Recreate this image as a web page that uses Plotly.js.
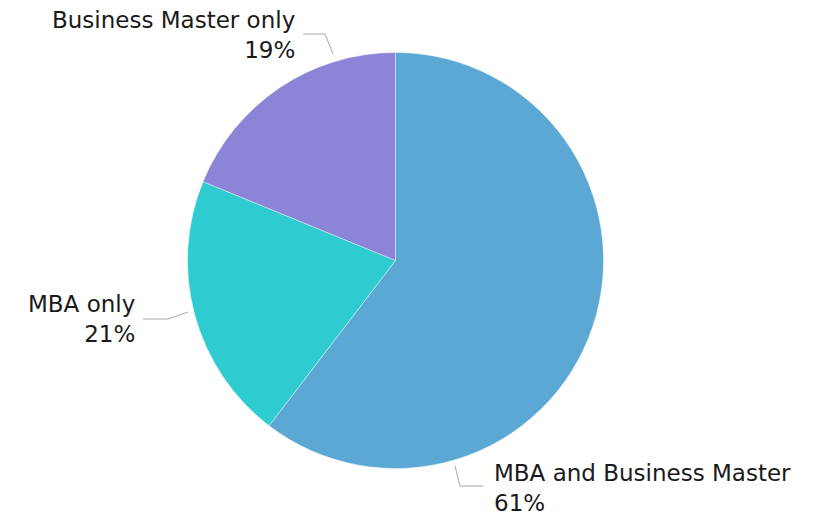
<!DOCTYPE html>
<html>
<head>
<meta charset="utf-8">
<script src="https://cdn.plot.ly/plotly-3.0.1.min.js"></script>
<style>
    html, body { margin: 0; padding: 0; background: #ffffff; }
    #chart { width: 818px; height: 515px; }
</style>
</head>
<body>
<div id="chart"></div>
<script>
// Data
const categories = ['MBA and Business Master', 'MBA only', 'Business Master only'];
const shares = [61, 21, 19];
const sliceColors = ['#5BA8D4', '#2ECCD1', '#8B84D7'];

const W = 818, H = 515;
const FONT = 'DejaVu Sans, Verdana, sans-serif';

// pixel -> paper helpers
const px = x => x / W;
const py = y => 1 - y / H;

// label placement (pixels): anchor point, alignment, leader line path
const labelLayout = [
    { x: 492, y: 488, xanchor: 'left', align: 'left', leader: [[455, 466], [460, 486], [483, 486]] },
    { x: 137, y: 319, xanchor: 'right', align: 'right', leader: [[188, 312], [168, 319], [143, 319]] },
    { x: 297, y: 35, xanchor: 'right', align: 'right', leader: [[333, 54], [325, 34], [303, 34]] }
];

const trace = {
    type: 'pie',
    labels: categories,
    values: shares,
    sort: false,
    direction: 'clockwise',
    rotation: 0,
    textinfo: 'none',
    hoverinfo: 'label+percent',
    showlegend: false,
    marker: { colors: sliceColors, line: { color: '#ffffff', width: 0.4 } },
    domain: { x: [px(187.5), px(603.5)], y: [py(468.5), py(52.5)] }
};

const annotations = categories.map((name, i) => ({
    xref: 'paper', yref: 'paper',
    x: px(labelLayout[i].x), y: py(labelLayout[i].y),
    xanchor: labelLayout[i].xanchor, yanchor: 'middle',
    align: labelLayout[i].align,
    text: name + '<br>' + shares[i] + '%',
    showarrow: false,
    font: { family: FONT, size: 23, color: '#1a1a1a' }
}));

const shapes = labelLayout.map(l => ({
    type: 'path',
    xref: 'paper', yref: 'paper',
    path: 'M ' + l.leader.map(p => px(p[0]) + ',' + py(p[1])).join(' L '),
    line: { color: '#A6A6A6', width: 1 }
}));

const layout = {
    width: W,
    height: H,
    margin: { t: 0, r: 0, b: 0, l: 0 },
    paper_bgcolor: '#ffffff',
    annotations: annotations,
    shapes: shapes
};

Plotly.newPlot('chart', [trace], layout, { displayModeBar: false, staticPlot: true });
</script>
</body>
</html>
